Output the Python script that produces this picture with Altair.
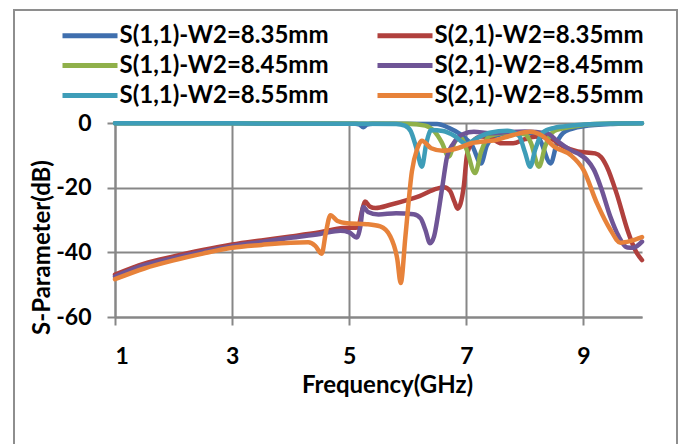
import altair as alt
import pandas as pd

# Series labels and line colours, in drawing order
series_names = [
    "S(1,1)-W2=8.35mm",
    "S(2,1)-W2=8.35mm",
    "S(1,1)-W2=8.45mm",
    "S(2,1)-W2=8.45mm",
    "S(1,1)-W2=8.55mm",
    "S(2,1)-W2=8.55mm",
]
series_colors = ["#3F6FAE", "#B0403D", "#8FB04A", "#6F5596", "#3E9DB8", "#E7823A"]

# S(1,1), W2 = 8.35 mm
s11_835_f = [1, 3, 5.1, 5.18, 5.24, 5.3, 5.4, 6.5, 6.7, 6.9, 7.1, 7.25, 7.35, 7.5, 7.8, 8.1, 8.25,
             8.44, 8.55, 8.7, 9.0, 9.5, 10]
s11_835_db = [-0.1, -0.1, -0.2, -0.5, -1.3, -0.5, -0.2, -0.3, -1.5, -3.5, -7, -12.5, -7, -4, -3,
              -3.2, -5, -12.5, -6, -2.5, -1, -0.3, -0.1]

# S(2,1), W2 = 8.35 mm
s21_835_f = [1, 1.5, 2, 2.5, 3, 3.5, 4, 4.5, 4.9, 5.15, 5.22, 5.27, 5.35, 5.45, 5.7, 6.0, 6.2,
             6.5, 6.62, 6.72, 6.8, 6.85, 6.9, 6.96, 7.01, 7.1, 7.25, 7.4, 7.6, 7.8, 8.0, 8.2, 8.4,
             8.66, 8.9, 9.2, 9.3, 9.4, 9.57, 9.75, 9.89, 10]
s21_835_db = [-46.9, -43.5, -41.3, -39.3, -37.6, -36.3, -35.1, -33.8, -32.5, -32.3, -27, -24.3,
              -25.8, -26.3, -25.3, -23.8, -22.6, -20.3, -19.9, -21, -24.5, -26.5, -25, -19, -10,
              -6, -4.2, -4.5, -6.3, -6.3, -5, -4.2, -4.5, -7.3, -8.8, -9.4, -10.5, -13.5, -22,
              -33, -39.5, -42.4]

# S(1,1), W2 = 8.45 mm
s11_845_f = [1, 3, 6.0, 6.3, 6.45, 6.58, 6.7, 6.8, 6.9, 7.0, 7.15, 7.25, 7.4, 7.7, 8.0, 8.1,
             8.24, 8.35, 8.5, 8.8, 9.2, 10]
s11_845_db = [-0.1, -0.1, -0.2, -0.8, -2.5, -6, -10.4, -6, -4.5, -8, -15.5, -9, -4, -3, -3.5,
              -6, -13.5, -7, -2.5, -1.2, -0.3, -0.1]

# S(2,1), W2 = 8.45 mm
s21_845_f = [1, 1.5, 2, 2.5, 3, 3.5, 4, 4.5, 4.85, 5.0, 5.13, 5.19, 5.24, 5.32, 5.5, 5.8, 6.1,
             6.22, 6.3, 6.38, 6.45, 6.52, 6.6, 6.67, 6.78, 6.95, 7.13, 7.4, 7.7, 8.0, 8.38, 8.55,
             8.78, 8.95, 9.06, 9.18, 9.3, 9.46, 9.6, 9.75, 9.85, 10]
s21_845_db = [-47.5, -44, -41.8, -39.8, -38.1, -36.8, -35.5, -34.3, -33.3, -33.8, -35.4, -32,
              -26, -27.5, -28.3, -27.9, -28.2, -29.5, -33, -37.2, -35, -28, -18.5, -10.5, -6.3,
              -3.4, -2.7, -3.2, -2.8, -2.6, -3.2, -5.5, -8.4, -9.9, -11.4, -14.5, -20, -29, -35,
              -38.5, -38.6, -36.7]

# S(1,1), W2 = 8.55 mm
s11_855_f = [1, 3, 5.0, 5.8, 5.95, 6.05, 6.15, 6.24, 6.32, 6.4, 6.6, 6.8, 7.0, 7.15, 7.4, 7.7,
             7.9, 8.0, 8.09, 8.18, 8.3, 8.5, 8.8, 9.2, 10]
s11_855_db = [-0.1, -0.1, -0.2, -0.3, -0.8, -2.5, -8, -13.5, -6, -2.2, -2.5, -4, -6.5, -5, -3,
              -2.4, -4, -9, -13.5, -8, -3, -1.5, -0.8, -0.3, -0.1]

# S(2,1), W2 = 8.55 mm
s21_855_f = [1, 1.5, 2, 2.5, 3, 3.5, 4.0, 4.3, 4.42, 4.53, 4.6, 4.68, 4.8, 4.96, 5.3, 5.53, 5.7,
             5.82, 5.88, 5.96, 6.07, 6.16, 6.24, 6.4, 6.6, 6.85, 7.1, 7.5, 7.8, 8.09, 8.3, 8.5,
             8.78, 9.0, 9.23, 9.46, 9.63, 9.8, 10]
s21_855_db = [-48.3, -45, -42.5, -40.4, -38.6, -37.7, -37, -36.9, -38, -40.4, -34, -28.5, -30.3,
              -31, -31.3, -32, -35, -42, -49.5, -35, -15, -8, -5.5, -7.8, -8.6, -7.8, -6.2, -5.3,
              -3.7, -2.7, -4, -7.3, -9.9, -14.5, -24.8, -33, -37, -36.5, -35.3]

freq_lists = [s11_835_f, s21_835_f, s11_845_f, s21_845_f, s11_855_f, s21_855_f]
db_lists = [s11_835_db, s21_835_db, s11_845_db, s21_845_db, s11_855_db, s21_855_db]

# The legend fills its two columns top to bottom: S(1,1) left, S(2,1) right
legend_order = [series_names[i] for i in (0, 2, 4, 1, 3, 5)]
legend_colors = [series_colors[i] for i in (0, 2, 4, 1, 3, 5)]

x_ticks = [1, 3, 5, 7, 9]
y_ticks = [0, -20, -40, -60]

rows = []
for name, fs, ds in zip(series_names, freq_lists, db_lists):
    for i, (f, d) in enumerate(zip(fs, ds)):
        rows.append({"series": name, "freq": f, "db": d, "idx": i})
df = pd.DataFrame(rows)

FONT = "Lato"
GRAY = "#878787"

lines = alt.Chart(df).mark_line(
    strokeWidth=4.5, interpolate="monotone", strokeCap="round", strokeJoin="round"
).encode(
    x=alt.X(
        "freq:Q",
        scale=alt.Scale(domain=[1, 10], nice=False, zero=False),
        axis=alt.Axis(
            values=x_ticks, title="Frequency(GHz)", grid=True, labelExpr="'' + datum.value",
            labelPadding=20, titleX=272, titleY=68, titleBaseline="middle",
            titleAlign="center",
        ),
    ),
    y=alt.Y(
        "db:Q",
        scale=alt.Scale(domain=[-60, 0], nice=False),
        axis=alt.Axis(
            values=y_ticks, title="S-Parameter(dB)", grid=True, labelExpr="'' + datum.value",
            labelPadding=16, titleX=-73, titleY=124, titleBaseline="middle",
            titleAlign="center",
        ),
    ),
    color=alt.Color(
        "series:N",
        scale=alt.Scale(domain=legend_order, range=legend_colors),
        legend=alt.Legend(
            title=None, orient="none", legendX=-38.5, legendY=-101, columns=2,
            columnPadding=38, rowPadding=4, symbolType="M-2.5,0L2.5,0", symbolSize=484,
            symbolStrokeWidth=5, labelFont=FONT, labelFontSize=24, labelFontWeight="bold",
            labelColor="black", labelOffset=16, labelLimit=0, padding=0,
        ),
    ),
    order="idx:Q",
)

# Outer chart-area frame
frame = alt.Chart(pd.DataFrame({"k": [0]})).mark_rect(
    fillOpacity=0, stroke="#8e8e8e", strokeWidth=2
).encode(
    x=alt.value(-101), x2=alt.value(562), y=alt.value(-113), y2=alt.value(345)
)

chart = alt.layer(frame, lines).properties(
    width=527, height=194,
    padding={"left": 115, "top": 123, "right": 44, "bottom": 127},
    autosize=alt.AutoSizeParams(type="none"),
    background="white",
).configure_view(strokeWidth=0).configure_axis(
    labelFont=FONT, labelFontSize=23, labelFontWeight="bold", labelColor="black",
    titleFont=FONT, titleFontSize=24, titleFontWeight="bold", titleColor="black",
    gridColor=GRAY, gridWidth=2, domainColor=GRAY, domainWidth=2,
    tickColor=GRAY, tickWidth=2, tickSize=8, gridOpacity=1,
)

chart.save("out.html", embed_options={"renderer": "svg", "actions": False})
